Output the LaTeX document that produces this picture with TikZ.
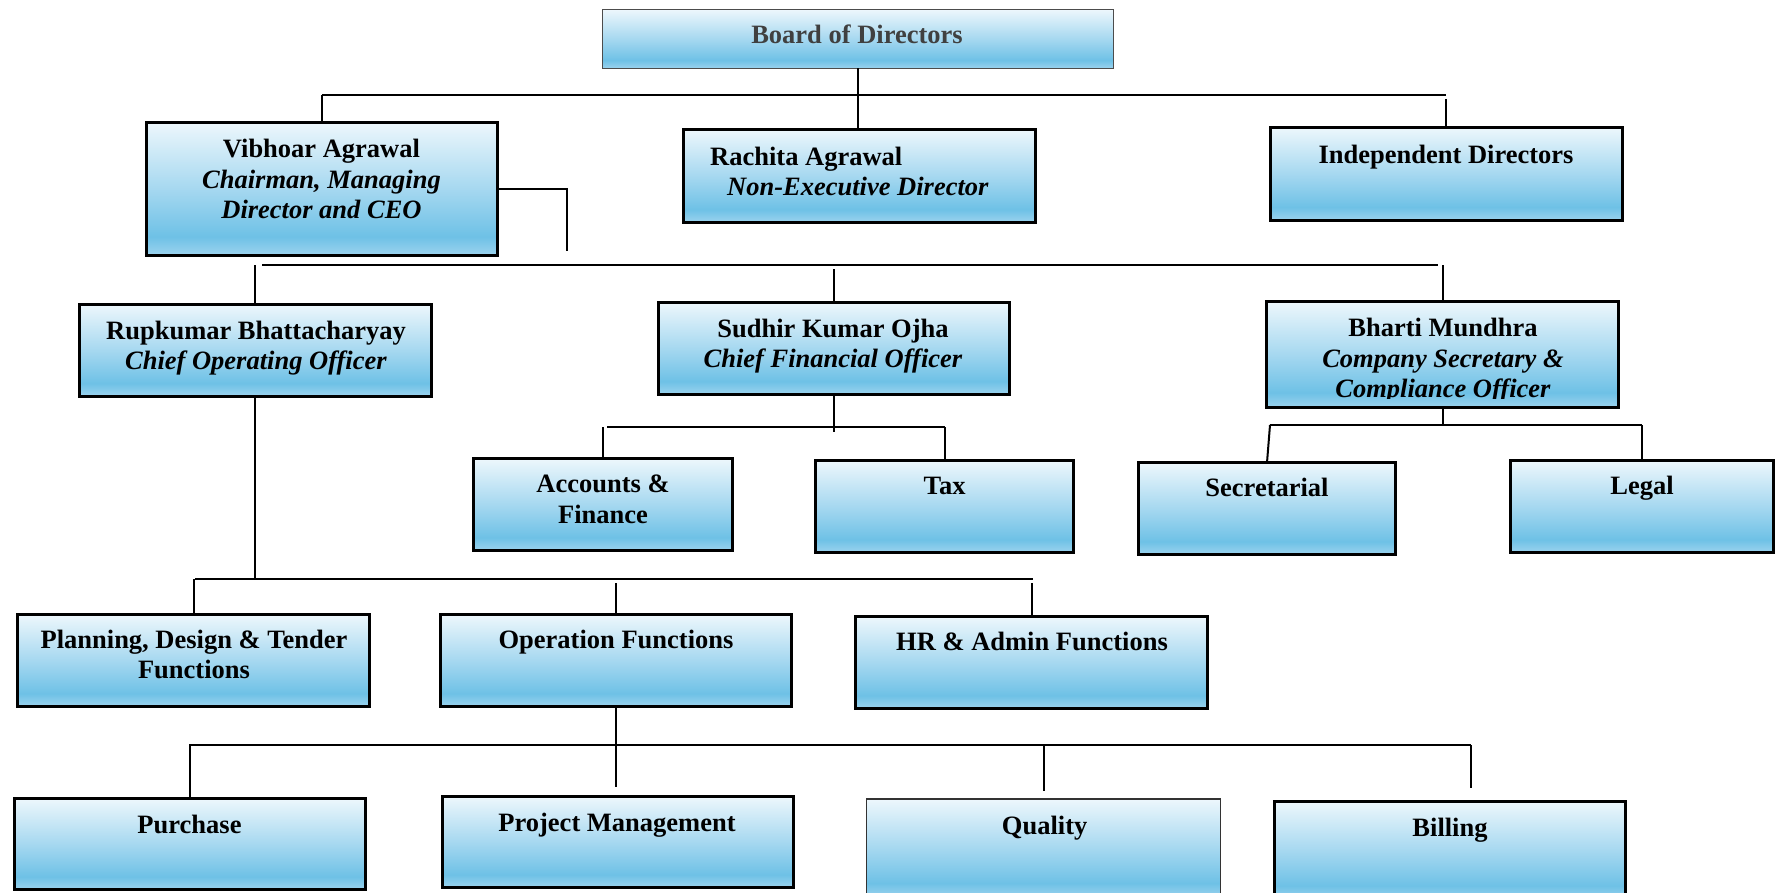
\documentclass[tikz,border=0pt]{standalone}
\usepackage{fontspec}
\setmainfont{Liberation Serif}
\definecolor{gt}{HTML}{EDF7FC}
\definecolor{gh}{HTML}{A6D8F0}
\definecolor{gm}{HTML}{6EC1E6}
\definecolor{gb}{HTML}{9CD3EE}
\definecolor{boardtxt}{HTML}{404040}
\pgfdeclareverticalshading{boxgrad}{100bp}{color(0bp)=(gb); color(25bp)=(gb); color(32bp)=(gm); color(50bp)=(gh); color(75bp)=(gt); color(100bp)=(gt)}
\begin{document}
\begin{tikzpicture}[x=1pt,y=-1pt,
  box/.style={rectangle, draw=black, line width=3pt, shade, shading=boxgrad, inner sep=0pt, outer sep=0pt},
  thinbox/.style={box, line width=1.2pt, draw=black!80},
  conn/.style={draw=black, line width=2pt},
  txt/.style={font=\fontsize{26.5}{30.5}\selectfont\bfseries, align=center, inner sep=0pt, anchor=base}]
\useasboundingbox (0,0) rectangle (1776,893);

% boxes
\node[thinbox, draw=black!70, minimum width=511pt, minimum height=59pt] (board) at (857.6,39) {};
\node[box, minimum width=351pt, minimum height=133pt] (vib) at (321.8,188.7) {};
\node[box, minimum width=352pt, minimum height=93pt] (rach) at (859,176) {};
\node[box, minimum width=352pt, minimum height=93pt] (indep) at (1446.3,173.8) {};
\node[box, minimum width=352pt, minimum height=92pt] (rup) at (255.4,350.3) {};
\node[box, minimum width=351pt, minimum height=92pt] (sud) at (833.8,348.3) {};
\node[box, minimum width=352pt, minimum height=106pt] (bhar) at (1442.5,354.5) {};
\node[box, minimum width=259pt, minimum height=92pt] (acc) at (603,504.5) {};
\node[box, minimum width=258pt, minimum height=92pt] (tax) at (944.5,506.5) {};
\node[box, minimum width=257pt, minimum height=92pt] (sec) at (1267,508.5) {};
\node[box, minimum width=263pt, minimum height=92pt] (legal) at (1642,506.5) {};
\node[box, minimum width=352pt, minimum height=92pt] (plan) at (193.5,660.5) {};
\node[box, minimum width=351pt, minimum height=92pt] (oper) at (615.8,660.5) {};
\node[box, minimum width=352pt, minimum height=92pt] (hr) at (1031.9,662.5) {};
\node[box, minimum width=351pt, minimum height=91pt] (purch) at (189.7,844) {};
\node[box, minimum width=351pt, minimum height=91pt] (pm) at (618.3,842) {};
\node[thinbox, minimum width=354pt, minimum height=98pt] (qual) at (1043.8,848) {};
\node[box, minimum width=351pt, minimum height=98pt] (bill) at (1450,850.5) {};

% texts (base anchor = baseline of the last line)
\node[txt, text=boardtxt] (boardT) at (857,43.3) {Board of Directors};
\node[txt] (vibT) at (321.5,219) {Vibhoar Agrawal\\\textit{Chairman, Managing}\\\textit{Director and CEO}};
\node[txt, align=left, anchor=base west] (rachT) at (710,195.6) {Rachita Agrawal\\\hspace*{17pt}\textit{Non-Executive Director}};
\node[txt] (indepT) at (1446,163.3) {Independent Directors};
\node[txt] (rupT) at (256,369.7) {Rupkumar Bhattacharyay\\\textit{Chief Operating Officer}};
\node[txt] (sudT) at (833,367.5) {Sudhir Kumar Ojha\\\textit{Chief Financial Officer}};
\begin{scope}
\clip (1266,301) rectangle (1619,398);
\node[txt] (bharT) at (1443,397.7) {Bharti Mundhra\\\textit{Company Secretary \&}\\\textit{Compliance Officer}};
\end{scope}
\node[txt] (accT) at (603,523.4) {Accounts \&\\Finance};
\node[txt] (taxT) at (944.6,494.7) {Tax};
\node[txt] (secT) at (1267,496.7) {Secretarial};
\node[txt] (legalT) at (1642,494.6) {Legal};
\node[txt] (planT) at (194,678.6) {Planning, Design \& Tender\\Functions};
\node[txt] (operT) at (616,648.3) {Operation Functions};
\node[txt] (hrT) at (1032,650.6) {HR \& Admin Functions};
\node[txt] (purchT) at (189.5,833.3) {Purchase};
\node[txt] (pmT) at (617,831.6) {Project Management};
\node[txt] (qualT) at (1044.6,834) {Quality};
\node[txt] (billT) at (1450,836.6) {Billing};

% connectors
\coordinate (b1L) at (322,95);
\coordinate (b1R) at (1446,95);
\draw[conn] (b1L) -- (b1R);
\draw[conn] (board.south) -- (board.south |- rach.north);
\draw[conn] (vib.north |- b1L) -- (vib.north);
\draw[conn, shorten <=4pt] (indep.north |- b1R) -- (indep.north);
\coordinate (vibEnd) at (567,251);
\draw[conn] (vib.east) -| (vibEnd);

\coordinate (b2L) at (262,265);
\coordinate (b2R) at (1438,265);
\draw[conn] (b2L) -- (b2R);
\draw[conn] (rup.north |- b2L) -- (rup.north);
\draw[conn, shorten <=4pt] (sud.north |- b2L) -- (sud.north);
\draw[conn] (bhar.north |- b2R) -- (bhar.north);

\coordinate (b3L) at (607,427);
\coordinate (b3R) at (944.6,427);
\coordinate (sudEnd) at (833.8,432);
\draw[conn] (sud.south) -- (sudEnd);
\draw[conn] (b3L) -- (b3R);
\draw[conn] (acc.north |- b3L) -- (acc.north);
\draw[conn] (tax.north |- b3R) -- (tax.north);

\coordinate (b4L) at (1270,425);
\coordinate (b4R) at (1642,425);
\draw[conn] (bhar.south) -- (bhar.south |- b4L);
\draw[conn] (b4L) -- (b4R);
\draw[conn] (b4L) -- (sec.north);
\draw[conn] (legal.north |- b4R) -- (legal.north);

\coordinate (b5L) at (195,579);
\coordinate (b5R) at (1032.6,579);
\draw[conn] (rup.south) -- (rup.south |- b5L);
\draw[conn] (b5L) -- (b5R);
\draw[conn] (plan.north |- b5L) -- (plan.north);
\draw[conn, shorten <=4pt] (oper.north |- b5L) -- (oper.north);
\draw[conn, shorten <=4pt] (hr.north |- b5R) -- (hr.north);

\coordinate (operEnd) at (615.8,787);
\draw[conn] (oper.south) -- (operEnd);
\coordinate (b6L) at (189.4,745);
\coordinate (b6R) at (1471,745);
\draw[conn] (b6L) -- (b6R);
\draw[conn] (purch.north |- b6L) -- (purch.north);
\draw[conn, shorten >=8pt] (qual.north |- b6L) -- (qual.north);
\draw[conn, shorten >=14pt] (b6R) -- (b6R |- bill.north);
\end{tikzpicture}
\end{document}
